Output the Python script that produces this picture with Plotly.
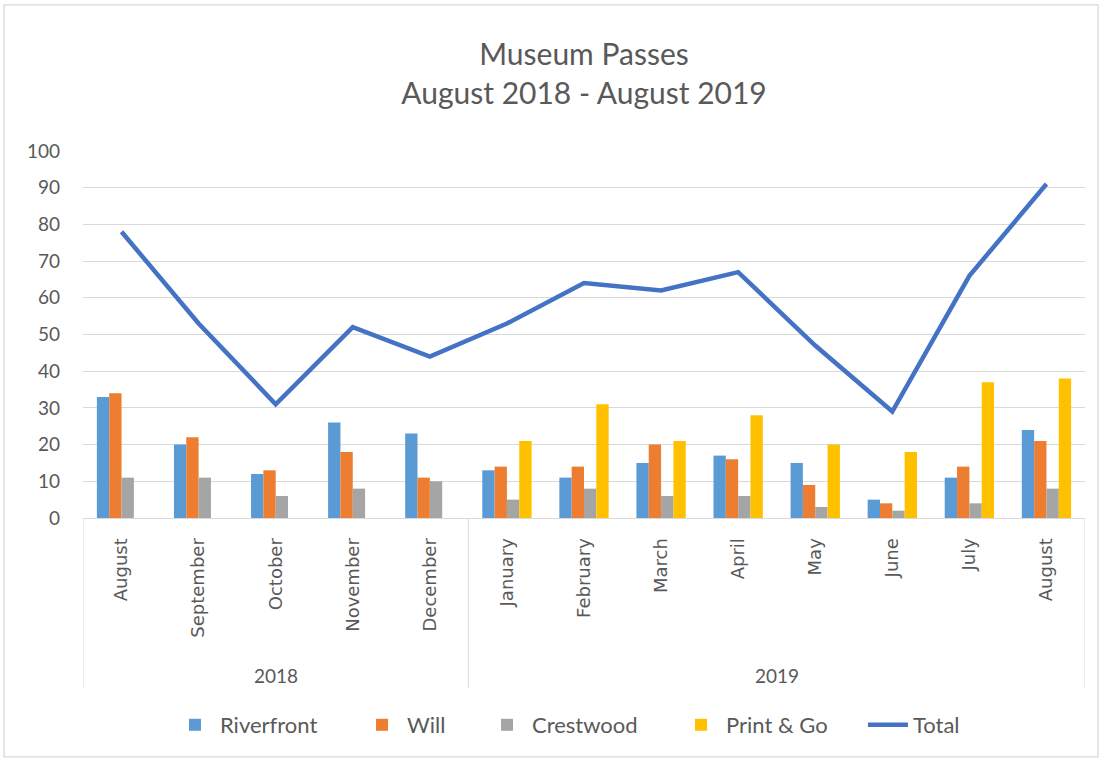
import plotly.graph_objects as go

months = ["August", "September", "October", "November", "December",
          "January", "February", "March", "April", "May", "June", "July", "August"]
years = ["2018", "2019"]
year_counts = [5, 8]

riverfront = [33, 20, 12, 26, 23, 13, 11, 15, 17, 15, 5, 11, 24]
will = [34, 22, 13, 18, 11, 14, 14, 20, 16, 9, 4, 14, 21]
crestwood = [11, 11, 6, 8, 10, 5, 8, 6, 6, 3, 2, 4, 8]
print_go = [None, None, None, None, None, 21, 31, 21, 28, 20, 18, 37, 38]
total = [78, 53, 31, 52, 44, 53, 64, 62, 67, 47, 29, 66, 91]

x = list(range(len(months)))
FONT = "Lato"
TXT = "#595959"

# each legend entry gets its own legend box so it can sit where the reference has it
legend_x = [0.0868, 0.2735, 0.3982, 0.5918, 0.7784]
legend_ids = ["legend", "legend2", "legend3", "legend4", "legend5"]

fig = go.Figure()
for i, (name, vals, col) in enumerate([("Riverfront", riverfront, "#5B9BD5"),
                                       ("Will", will, "#ED7D31"),
                                       ("Crestwood", crestwood, "#A5A5A5"),
                                       ("Print & Go", print_go, "#FFC000")]):
    fig.add_trace(go.Bar(x=x, y=vals, name=name, legend=legend_ids[i],
                         marker=dict(color=col, line=dict(width=0))))
fig.add_trace(go.Scatter(x=x, y=total, name="Total", mode="lines", legend=legend_ids[4],
                         line=dict(color="#4472C4", width=4.5)))

# year group labels and dividers
shapes = []
annotations = []
start = 0
bounds = [-0.5]
for yr, cnt in zip(years, year_counts):
    center = start + (cnt - 1) / 2
    annotations.append(dict(x=center, y=-0.428, xref="x", yref="paper", text=yr,
                            xanchor="center", yanchor="middle",
                            showarrow=False, font=dict(family=FONT, size=19, color=TXT)))
    start += cnt
    bounds.append(start - 0.5)
for b in bounds:
    shapes.append(dict(type="line", xref="x", yref="paper", x0=b, x1=b, y0=0, y1=-0.463,
                       line=dict(color="#d9d9d9", width=1)))
# outer chart border
shapes.append(dict(type="rect", xref="paper", yref="paper", x0=-0.0788, x1=1.013,
                   y0=-0.651, y1=1.398, line=dict(color="#d9d9d9", width=1.3), layer="below"))

legend_style = dict(orientation="h", xanchor="left", y=-0.564, yanchor="middle",
                    font=dict(family=FONT, size=22, color=TXT), itemwidth=40,
                    bgcolor="rgba(0,0,0,0)")
legends = {lid: dict(legend_style, x=lx) for lid, lx in zip(legend_ids, legend_x)}

fig.update_layout(
    width=1103, height=761,
    margin=dict(l=83, r=18, t=151, b=243, autoexpand=False),
    paper_bgcolor="white", plot_bgcolor="white",
    title=dict(text="Museum Passes<br>August 2018 - August 2019", x=0.5, xref="paper",
               xanchor="center", y=0.915, yanchor="top",
               font=dict(family=FONT, size=30, color=TXT)),
    barmode="group", bargap=0.36, bargroupgap=0,
    showlegend=True,
    shapes=shapes, annotations=annotations,
    xaxis=dict(tickmode="array", tickvals=x, ticktext=months, tickangle=-90,
               range=[-0.5, len(months) - 0.5], showgrid=False,
               showline=True, linecolor="#d9d9d9", linewidth=1,
               ticks="", ticklabelstandoff=12, automargin=False,
               tickfont=dict(family="DejaVu Sans", size=18, color=TXT)),
    yaxis=dict(range=[0, 100], dtick=10, showgrid=True, gridcolor="#d9d9d9", gridwidth=1,
               zeroline=False, showline=False, ticks="", ticklabelstandoff=22,
               automargin=False,
               tickfont=dict(family=FONT, size=19, color=TXT)),
    **legends,
)

fig.write_html("out.html", config={"displayModeBar": False},
               post_script="document.body.style.margin='0px';")
